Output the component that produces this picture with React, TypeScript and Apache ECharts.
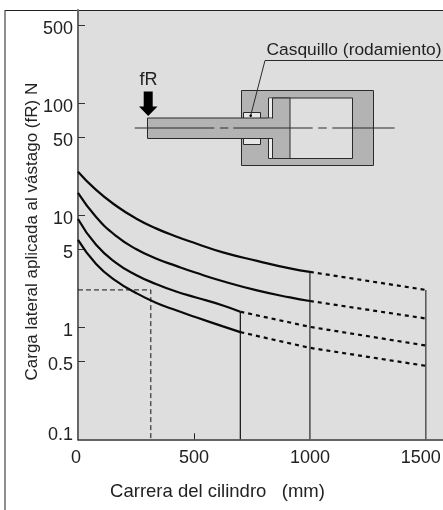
import React, { useEffect, useRef } from "react";
import * as echarts from "echarts";

const xTicks = [500];
const xLabels = [0, 500, 1000, 1500];
const yLabels = [0.1, 0.5, 1, 5, 10, 50, 100, 500];
const curveAx = [0, 78, 164, 250, 336, 423, 509, 625, 772, 914, 1000];
const curveA = [24.6, 16.9, 12.2, 9.4, 7.66, 6.49, 5.62, 4.68, 3.93, 3.36, 3.13];
const curveB = [15.9, 9.7, 6.56, 5.01, 4.13, 3.54, 3.07, 2.58, 2.14, 1.85, 1.72];
const curveCx = [0, 78, 164, 250, 336, 423, 509, 625, 700];
const curveC = [9.3, 5.46, 3.77, 2.94, 2.44, 2.09, 1.85, 1.57, 1.38];
const curveD = [6.04, 3.69, 2.6, 2.03, 1.66, 1.42, 1.23, 1.02, 0.906];
const dashA = [[1000, 3.13], [1500, 2.16]];
const dashB = [[1000, 1.72], [1500, 1.2]];
const dashC = [[700, 1.38], [1000, 1.01], [1500, 0.688]];
const dashD = [[700, 0.906], [1000, 0.656], [1500, 0.453]];
const drop700 = [[700, 0.1], [700, 1.38]];
const drop1000 = [[1000, 0.1], [1000, 3.13]];
const drop1500 = [[1500, 0.1], [1500, 2.16]];
const guide = [[0, 2.16], [314, 2.16], [314, 0.1]];

const FONT = "Liberation Sans";
const pair = (xs: number[], ys: number[]) => xs.map((x, i) => [x, ys[i]]);

const line = (data: number[][], width: number, color: string, type: any = "solid", smooth: any = false) => ({
  type: "line",
  data,
  smooth,
  showSymbol: false,
  symbol: "none",
  silent: true,
  lineStyle: { width, color, type, cap: "butt" },
});

export default function App() {
  const ref = useRef<HTMLDivElement>(null);
  useEffect(() => {
    const chart = echarts.init(ref.current!, undefined, { renderer: "svg" });
    const body = "#b3b3b3";
    const bg = "#dedede";
    const ink = "#2a2a2a";
    const rect = (x: number, y: number, w: number, h: number, fill: string, stroke: string | null = ink) => ({
      type: "rect",
      shape: { x, y, width: w, height: h },
      style: { fill, stroke: stroke ?? undefined, lineWidth: 1 },
    });
    const seg = (x1: number, y1: number, x2: number, y2: number, stroke = ink, lineWidth = 1) => ({
      type: "line",
      shape: { x1, y1, x2, y2 },
      style: { stroke, lineWidth },
    });
    const txt = { fontFamily: FONT, fontSize: 18, color: "#222" };
    chart.setOption({
      animation: false,
      grid: { left: 78, top: 10, right: 0, bottom: 70.7, show: true, backgroundColor: bg, borderWidth: 0, outerBoundsMode: "none" },
      xAxis: {
        type: "value",
        min: 0,
        max: 1574,
        axisLine: { onZero: false, lineStyle: { color: "#333", width: 1.5 } },
        axisTick: { show: true, inside: true, length: 6, customValues: xTicks, lineStyle: { color: "#222", width: 1 } },
        splitLine: { show: false },
        axisLabel: {
          customValues: xLabels,
          margin: 9,
          ...txt,
          hideOverlap: false,
          showMinLabel: true,
          showMaxLabel: true,
          formatter: (v: number) => (v === 1500 ? `{s|${v}}` : v === 0 ? `{z|${v}}` : `{n|${v}}`),
          rich: {
            n: { ...txt },
            z: { ...txt, padding: [0, 4, 0, 0] },
            s: { ...txt, padding: [0, 10, 0, 0] },
          },
        },
        name: "Carrera del cilindro   (mm)",
        nameLocation: "middle",
        nameGap: 42,
        nameMoveOverlap: false,
        nameTextStyle: { ...txt, fontSize: 18.5, padding: [0, 86, 0, 0] },
      },
      yAxis: {
        type: "log",
        logBase: 10,
        min: 0.1,
        max: 684,
        axisLine: { onZero: false, lineStyle: { color: "#666", width: 2 } },
        axisTick: { show: true, inside: true, length: 7, customValues: yLabels.slice(1), lineStyle: { color: "#333", width: 1 } },
        minorTick: { show: false },
        splitLine: { show: false },
        axisLabel: {
          customValues: yLabels,
          margin: 5,
          ...txt,
          showMinLabel: true,
          formatter: (v: number) => (v === 0.1 ? `{b|${v}}` : `{n|${v}}`),
          rich: {
            n: { ...txt, padding: [5, 0, 0, 0] },
            b: { ...txt, padding: [0, 0, 10, 0] },
          },
        },
        name: "Carga lateral aplicada al vástago (fR) N",
        nameLocation: "middle",
        nameGap: 38,
        nameRotate: 90,
        nameMoveOverlap: false,
        nameTextStyle: { ...txt, fontSize: 17, padding: [0, 14, 0, 0] },
      },
      series: [
        line(guide, 1, "#111", [5, 3]),
        line(drop700, 1.2, "#111"),
        line(drop1000, 1.6, "#555"),
        line(drop1500, 1.2, "#333"),
        line(pair(curveAx, curveA), 2.2, "#0a0a0a", "solid", 0.5),
        line(pair(curveAx, curveB), 2.2, "#0a0a0a", "solid", 0.5),
        line(pair(curveCx, curveC), 2.2, "#0a0a0a", "solid", 0.5),
        line(pair(curveCx, curveD), 2.2, "#0a0a0a", "solid", 0.5),
        line(dashA, 2.2, "#0a0a0a", [4, 4]),
        line(dashB, 2.2, "#0a0a0a", [4, 4]),
        line(dashC, 2.2, "#0a0a0a", [4, 4]),
        line(dashD, 2.2, "#0a0a0a", [4, 4]),
      ],
      graphic: [
        seg(5, 10.5, 443, 10.5, "#222", 1),
        seg(5, 10, 5, 510, "#444", 1.2),
        rect(241.5, 90.5, 132, 75, body),
        rect(268.5, 98, 84, 60.5, bg),
        { type: "rect", shape: { x: 269, y: 98.5, width: 3.5, height: 59.5 }, style: { fill: "#ececec" } },
        rect(272.5, 98, 17.5, 60.5, body),
        rect(243.5, 112.5, 17, 6, "#e6e6e6"),
        rect(243.5, 138.5, 17, 6, "#e6e6e6"),
        rect(147.5, 118, 125, 20.5, body),
        { type: "rect", shape: { x: 268, y: 118.6, width: 6, height: 19.4 }, style: { fill: body } },
        seg(134.7, 128, 214.3, 128),
        seg(220, 128, 228.3, 128),
        seg(233.3, 128, 312.7, 128),
        seg(318.3, 128, 326.7, 128),
        seg(332.3, 128, 394.5, 128),
        seg(443, 60.5, 265, 60.5),
        seg(265, 60.5, 250.7, 115.5),
        { type: "circle", shape: { cx: 250.7, cy: 115.7, r: 1.3 }, style: { fill: "#000" } },
        {
          type: "polygon",
          shape: { points: [[143.7, 91.5], [152.7, 91.5], [152.7, 106.5], [157.5, 106.5], [148.2, 116], [139, 106.5], [143.7, 106.5]] },
          style: { fill: "#000" },
        },
        { type: "text", x: 139.5, y: 70, style: { text: "fR", font: `18px ${FONT}`, fill: "#222" } },
        { type: "text", x: 266.5, y: 40, style: { text: "Casquillo (rodamiento)", font: `17.4px ${FONT}`, fill: "#222" } },
      ],
    });
    return () => chart.dispose();
  }, []);
  return <div ref={ref} style={{ position: "fixed", left: 0, top: 0, width: 443, height: 510 }} />;
}
